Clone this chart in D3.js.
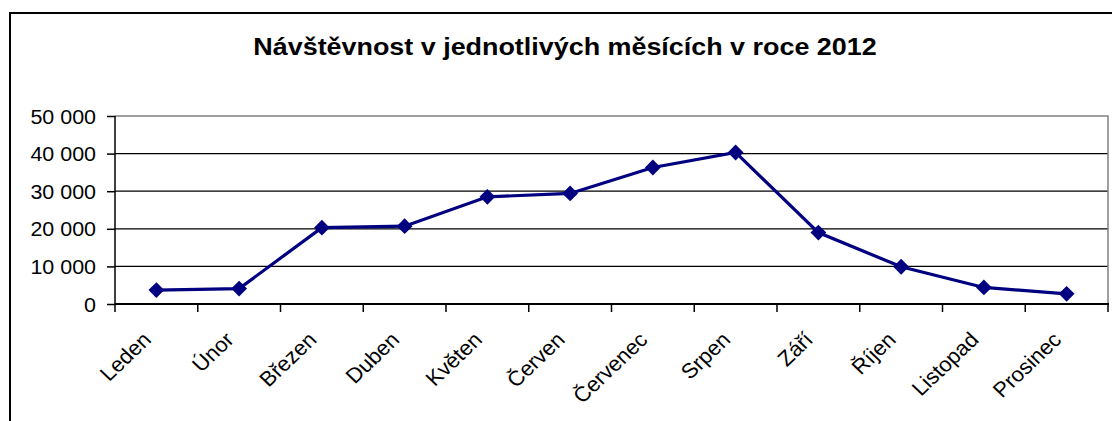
<!DOCTYPE html>
<html>
<head>
<meta charset="utf-8">
<script src="https://cdn.jsdelivr.net/npm/d3@7"></script>
<style>
  body { margin: 0; background: #fff; }
  svg { display: block; font-family: Arial, "Liberation Sans", sans-serif; }
</style>
</head>
<body>
<svg id="chart" width="1112" height="421"></svg>
<script>
// chart data
const months = ["Leden", "Únor", "Březen", "Duben", "Květen", "Červen",
  "Červenec", "Srpen", "Září", "Říjen", "Listopad", "Prosinec"];
const visits = [3700, 4100, 20300, 20700, 28500, 29400,
  36300, 40300, 19000, 9900, 4400, 2700];
const yTicks = [0, 10000, 20000, 30000, 40000, 50000];
const title = "Návštěvnost v jednotlivých měsících v roce 2012";

const svg = d3.select("#chart");

// plot area ("top" is taken by window.top)
const pLeft = 115, pRight = 1108, pTop = 116, pBottom = 304;

// the original picture is a bit stretched sideways, so text is too
const stretch = 1.05;

const x = d3.scaleBand().domain(months).range([pLeft, pRight]);
const y = d3.scaleLinear().domain([0, 50000]).range([pBottom, pTop]);

const cz = d3.formatLocale({ decimal: ",", thousands: "\u00a0", grouping: [3], currency: ["", " Kč"] });
const fmt = cz.format(",d");

// outer chart frame (runs off the picture at right / bottom)
svg.append("rect")
  .attr("x", 10).attr("y", 13)
  .attr("width", 1120).attr("height", 430)
  .attr("fill", "#fff")
  .attr("stroke", "#000")
  .attr("stroke-width", 2);

// title
svg.append("text")
  .attr("transform", "translate(565,54.5) scale(1.17,1)")
  .attr("text-anchor", "middle")
  .attr("font-size", 23)
  .attr("font-weight", "bold")
  .text(title);

// gridlines
svg.append("g")
  .selectAll("line")
  .data(yTicks.filter(d => d > 0 && d < 50000))
  .enter()
  .append("line")
  .attr("x1", pLeft).attr("x2", pRight)
  .attr("y1", d => y(d)).attr("y2", d => y(d))
  .attr("stroke", "#000")
  .attr("stroke-width", 1.3);

// plot area border (gray top + right)
svg.append("path")
  .attr("d", `M${pLeft},${pTop} L${pRight},${pTop} L${pRight},${pBottom}`)
  .attr("fill", "none")
  .attr("stroke", "#808080")
  .attr("stroke-width", 1.5);

// y axis
const yAxis = d3.axisLeft(y)
  .tickValues(yTicks)
  .tickFormat(fmt)
  .tickSize(8);

const gy = svg.append("g")
  .attr("transform", `translate(${pLeft},0)`)
  .call(yAxis);
gy.selectAll("line, path").attr("stroke", "#000").attr("stroke-width", 1.5);
gy.select(".domain").attr("d", `M0,${pTop}V${pBottom}`);
gy.selectAll("text")
  .attr("x", 0)
  .attr("transform", "translate(-19,0) scale(1.1,1)")
  .attr("font-size", 19.5)
  .attr("font-family", "Arial, 'Liberation Sans', sans-serif")
  .attr("fill", "#000")
  .attr("dy", "0.36em");

// x axis: ticks on category boundaries
const gx = svg.append("g");
gx.append("line")
  .attr("x1", pLeft).attr("x2", pRight + 1)
  .attr("y1", pBottom).attr("y2", pBottom)
  .attr("stroke", "#000").attr("stroke-width", 1.8);
gx.selectAll(".tick")
  .data(months.concat(["end"]))
  .enter()
  .append("line")
  .attr("x1", (d, i) => pLeft + i * x.step())
  .attr("x2", (d, i) => pLeft + i * x.step())
  .attr("y1", pBottom).attr("y2", pBottom + 8)
  .attr("stroke", "#000").attr("stroke-width", 1.5);

gx.selectAll(".lbl")
  .data(months)
  .enter()
  .append("text")
  .attr("class", "lbl")
  .attr("text-anchor", "end")
  .attr("font-size", 21)
  .attr("transform", d => `translate(${x(d) + x.bandwidth() / 2 - 4},${pBottom + 37}) scale(${stretch},1) rotate(-45)`)
  .text(d => d);

// line
const line = d3.line()
  .x((d, i) => x(months[i]) + x.bandwidth() / 2)
  .y(d => y(d));

svg.append("path")
  .datum(visits)
  .attr("d", line)
  .attr("fill", "none")
  .attr("stroke", "#000080")
  .attr("stroke-width", 3.2);

// diamond markers
const diamond = d3.symbol().type(d3.symbolSquare).size(125);
svg.append("g")
  .selectAll("path")
  .data(visits)
  .enter()
  .append("path")
  .attr("d", diamond)
  .attr("transform", (d, i) => `translate(${x(months[i]) + x.bandwidth() / 2},${y(d)}) rotate(45)`)
  .attr("fill", "#000080");
</script>
</body>
</html>
